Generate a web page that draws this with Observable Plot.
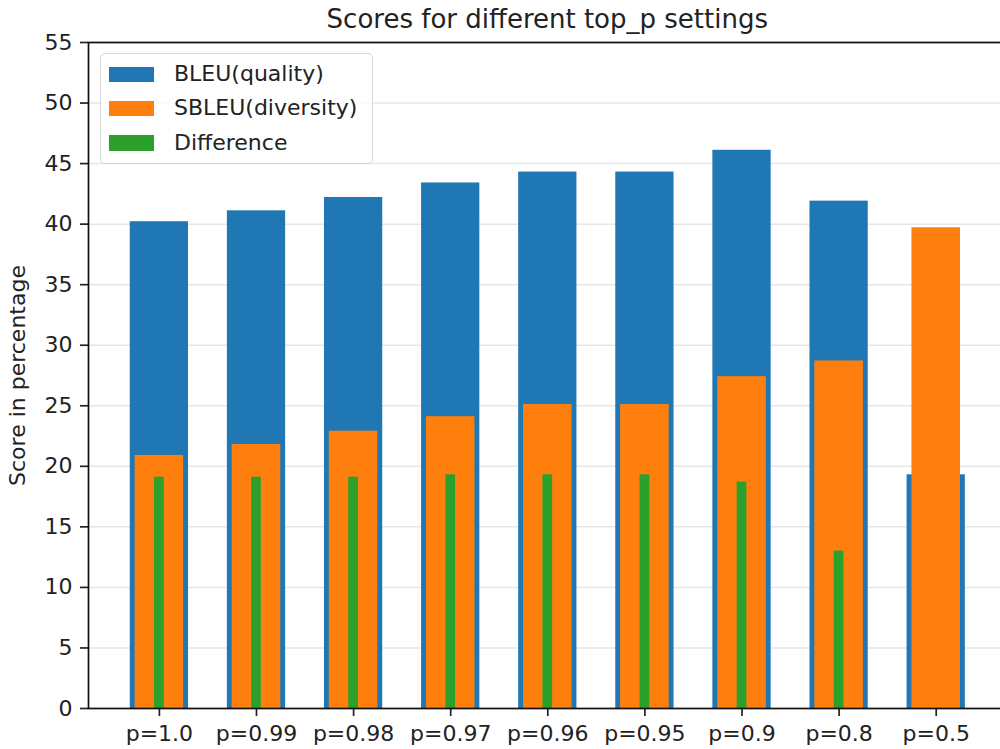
<!DOCTYPE html>
<html>
<head>
<meta charset="utf-8">
<script src="https://cdn.jsdelivr.net/npm/d3@7"></script>
<script src="https://cdn.jsdelivr.net/npm/@observablehq/plot@0.6"></script>
<style>
html, body { margin: 0; padding: 0; background: #fff; overflow: hidden; width: 1000px; height: 749px; }
#wrap { position: relative; width: 1000px; height: 749px; overflow: hidden; font-family: "DejaVu Sans", sans-serif; color: #222; }
#title { position: absolute; left: 88px; width: 918.6px; top: 0; height: 38px; line-height: 38px; text-align: center; font-size: 26px; white-space: nowrap; }
#chart { position: absolute; left: 0; top: 38px; width: 1010px; height: 711px; }
#chart svg { max-width: none !important; width: 1010px !important; height: 711px !important; display: block; }
#legend { position: absolute; left: 100px; top: 53px; width: 273px; height: 111px; box-sizing: border-box; border: 1.5px solid #d6d6d6; border-radius: 5px; background: rgba(255,255,255,0.8); }
.item { position: absolute; left: 0; height: 34px; width: 100%; }
.sw { position: absolute; left: 8px; top: 9.5px; width: 45px; height: 15.5px; }
.lab { position: absolute; left: 73px; top: 0; height: 34px; line-height: 34px; font-size: 22px; white-space: nowrap; }
</style>
</head>
<body>
<div id="wrap">
  <div id="title">Scores for different top_p settings</div>
  <div id="chart"></div>
  <div id="legend"></div>
</div>
<script>
// ---- data ----
const categories = ["p=1.0", "p=0.99", "p=0.98", "p=0.97", "p=0.96", "p=0.95", "p=0.9", "p=0.8", "p=0.5"];
const bleu       = [40.2, 41.1, 42.2, 43.4, 44.3, 44.3, 46.1, 41.9, 19.3];
const sbleu      = [20.9, 21.8, 22.9, 24.1, 25.1, 25.1, 27.4, 28.7, 39.7];
const difference = [19.1, 19.1, 19.1, 19.3, 19.3, 19.3, 18.7, 13.0, null];
const seriesNames = ["BLEU(quality)", "SBLEU(diversity)", "Difference"];
const seriesColors = ["#1f77b4", "#ff7f0e", "#2ca02c"];
const yTicks = [0, 5, 10, 15, 20, 25, 30, 35, 40, 45, 50, 55];
const yLabel = "Score in percentage";

// ---- table ----
const rows = categories.map((c, i) => ({ i, c, bleu: bleu[i], sbleu: sbleu[i], diff: difference[i] }));
const halfW = [0.3, 0.25, 0.05];

const chart = Plot.plot({
  width: 1010,
  height: 711,
  marginLeft: 88,
  marginRight: 3.4,
  marginTop: 4,
  marginBottom: 41,
  style: { fontFamily: "DejaVu Sans, sans-serif", fontSize: "22px", color: "#222", background: "transparent", overflow: "visible" },
  x: { type: "linear", domain: [-0.73, 8.73] },
  y: { type: "linear", domain: [0, 55] },
  marks: [
    Plot.gridY(yTicks, { stroke: "#e6e6e6", strokeOpacity: 1, strokeWidth: 1.5 }),
    Plot.rect(rows, { x1: d => d.i - halfW[0], x2: d => d.i + halfW[0], y1: d => 0, y2: "bleu", fill: seriesColors[0] }),
    Plot.rect(rows, { x1: d => d.i - halfW[1], x2: d => d.i + halfW[1], y1: d => 0, y2: "sbleu", fill: seriesColors[1] }),
    Plot.rect(rows.filter(d => d.diff != null), { x1: d => d.i - halfW[2], x2: d => d.i + halfW[2], y1: d => 0, y2: "diff", fill: seriesColors[2] }),
    Plot.axisX({ ticks: rows.map(d => d.i), tickFormat: i => categories[i], tickSize: 8, tickPadding: 9, strokeWidth: 1.7, label: null, fontSize: 22 }),
    Plot.axisY({ ticks: yTicks, tickSize: 8, tickPadding: 8, strokeWidth: 1.7, label: null, fontSize: 22 }),
    Plot.frame({ stroke: "#111", strokeWidth: 1.7 }),
    Plot.text([yLabel], { text: d => d, frameAnchor: "left", dx: -71, rotate: -90, textAnchor: "middle", lineAnchor: "middle", fontSize: 22, fill: "#222" })
  ]
});
document.getElementById("chart").appendChild(chart);

// ---- legend ----
const legend = document.getElementById("legend");
seriesNames.forEach((name, k) => {
  const item = document.createElement("div");
  item.className = "item";
  item.style.top = (3 + k * 34.3) + "px";
  const sw = document.createElement("div");
  sw.className = "sw";
  sw.style.background = seriesColors[k];
  const lab = document.createElement("div");
  lab.className = "lab";
  lab.textContent = name;
  item.appendChild(sw);
  item.appendChild(lab);
  legend.appendChild(item);
});
</script>
</body>
</html>
